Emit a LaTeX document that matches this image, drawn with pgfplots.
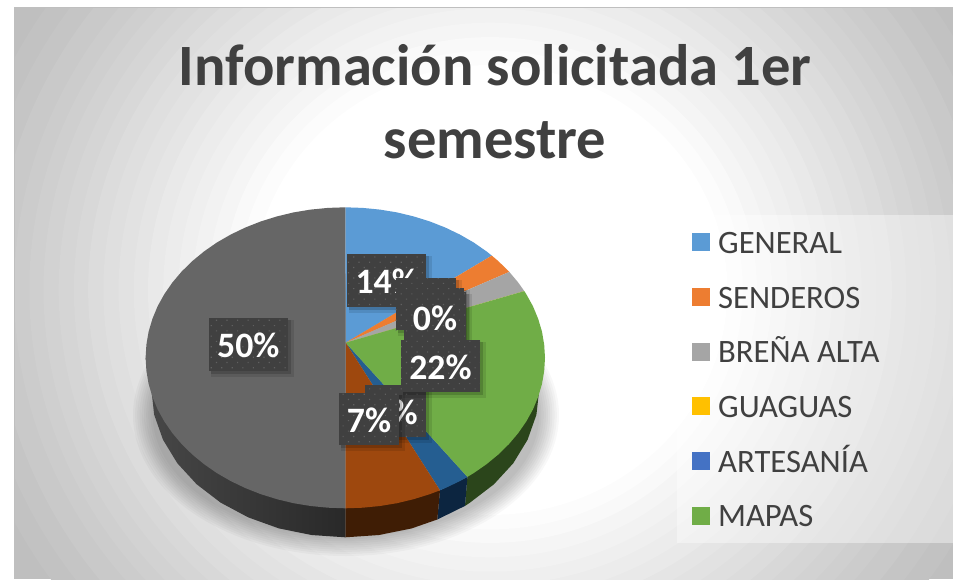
\documentclass[border=0pt]{standalone}
\usepackage{pgfplots}
\pgfplotsset{compat=1.18}
\usepackage{fontspec}
\setmainfont{Carlito}
\usetikzlibrary{patterns.meta}
\definecolor{cBlue}{HTML}{5B9BD5}
\definecolor{cOrange}{HTML}{ED7D31}
\definecolor{cGray}{HTML}{A5A5A5}
\definecolor{cYellow}{HTML}{FFC000}
\definecolor{cArt}{HTML}{255E91}
\definecolor{cArtL}{HTML}{4472C4}
\definecolor{cGreen}{HTML}{70AD47}
\definecolor{cBrown}{HTML}{9E480E}
\definecolor{cDark}{HTML}{666666}
\definecolor{sGreen}{HTML}{2B451B}
\definecolor{sArt}{HTML}{0C2540}
\definecolor{sBrown}{HTML}{3F1D05}
\definecolor{txt}{HTML}{404040}
\definecolor{lab}{HTML}{404040}
\definecolor{labd}{HTML}{606060}
\definecolor{bgB}{HTML}{BFBFBF}
\newcommand{\bgl}[2]{\fill[white!#1!bgB] (axis cs:490,290) ellipse [x radius={#2*9.5}, y radius={#2*9}];}
\newcommand{\lblbox}[4]{%
  \fill[black,opacity=.10] (axis cs:#1+2,#3+2) rectangle (axis cs:#2+6,#4+6);
  \fill[black,opacity=.16] (axis cs:#1+2,#3+2) rectangle (axis cs:#2+3,#4+3);
  \fill[lab] (axis cs:#1,#3) rectangle (axis cs:#2,#4);
  \fill[pattern={Dots[radius=.6pt,distance=5.6pt,angle=45]},pattern color=labd] (axis cs:#1,#3) rectangle (axis cs:#2,#4);
}
\newcommand{\lbl}[5]{%
  \lblbox{#1}{#2}{#3}{#4}
  \node[text=white,font=\fontsize{26.8}{30}\selectfont\bfseries] at (axis cs:{(#1+#2)/2},{(#3+#4)/2+1}) {#5};
}
\newcommand{\shad}[2]{\fill[black,opacity=.028] (axis cs:346,415) ellipse [x radius=#1, y radius=#2];}
\begin{document}
\begin{tikzpicture}
\begin{axis}[
  scale only axis, width=714.75pt, height=434.25pt,
  xmin=0, xmax=953, ymin=0, ymax=579, y dir=reverse,
  hide axis, clip=true,
  title={Información solicitada 1er\\semestre},
  title style={at={(0.5195,0.8104)},anchor=center,align=center,text=txt,
    font=\fontsize{43.9}{54.5}\selectfont\bfseries},
  legend style={at={(0.726,0.3446)},anchor=west,draw=none,fill=none,
    inner xsep=0pt,inner ysep=0pt,font=\fontsize{24.5}{28}\selectfont,text=txt,
    row sep=18pt,column sep=6pt,
    nodes={inner sep=0pt,text height=19.4pt,text depth=3.6pt}},
  legend cell align=left,
  legend image code/.code={\fill[#1] (0pt,-6.45pt) rectangle (13.5pt,7.05pt);},
]
\fill[white] (axis cs:0,0) rectangle (axis cs:953,579);
\fill[color=black!25] (axis cs:13.5,6.5) rectangle (axis cs:953,579);
\begin{scope}
\clip (axis cs:15,8) rectangle (axis cs:953,579);
\fill[bgB] (axis cs:15,8) rectangle (axis cs:953,579);
\bgl{5}{56.3}\bgl{10}{54.2}\bgl{15}{52.2}\bgl{20}{50.1}\bgl{25}{48.5}
\bgl{30}{47}\bgl{35}{45.4}\bgl{40}{43.8}\bgl{45}{42.3}\bgl{50}{40.7}
\bgl{55}{39.1}\bgl{60}{37.5}\bgl{65}{36}\bgl{70}{34.4}\bgl{75}{32.8}
\bgl{80}{31.3}\bgl{85}{29.7}\bgl{90}{28.1}\bgl{95}{26.6}\bgl{100}{25}
\end{scope}
\fill[white,opacity=.4] (axis cs:677,215) rectangle (axis cs:953,543);
\shad{213}{141}\shad{210.8}{138.9}\shad{208.6}{136.8}\shad{206.4}{134.7}\shad{204.2}{132.6}
\shad{202}{130.5}\shad{199.8}{128.4}\shad{197.6}{126.3}\shad{195.4}{124.2}\shad{193.2}{122.1}
% sides
\addplot[forget plot,draw=none,fill=sGreen] coordinates {(539.3,389)(536.4,414.8)(527.6,439.7)(513.3,463.2)(493.9,484.3)(470,502.6)(465,505.9)(467.4,476.9)(500,400)} --cycle;
\addplot[forget plot,draw=none,fill=sArt] coordinates {(467.4,476.9)(465,505.9)(437.3,519.5)(440,490.3)} --cycle;
\addplot[forget plot,draw=none,fill=sBrown] coordinates {(440,490.3)(437.3,519.5)(411.7,528.4)(379,535)(345.3,537.3)(345.3,508.3)} --cycle;
\addplot[forget plot,draw=none,left color=black!72,right color=black!84] coordinates {(345.3,508.3)(345.3,537.3)(311.6,535)(278.9,528.4)(248.3,517.4)(220.6,502.6)(196.7,484.3)(177.3,463.2)(163,439.7)(154.2,414.8)(151.3,389)(145.6,357.8)(300,400)} --cycle;
% top
\addplot[draw=none,fill=cBlue] coordinates {(345.7,342.7)(345.3,207.3)(362.7,207.9)(380.0,209.6)(397.0,212.4)(413.6,216.4)(429.7,221.4)(445.2,227.5)(459.8,234.5)(473.7,242.5)(486.5,251.4)(491.8,255.6)} --cycle;
\addlegendentry{GENERAL}
\addplot[draw=none,fill=cOrange] coordinates {(345.7,342.7)(491.8,255.6)(498.3,261.1)(509.3,271.9)} --cycle;
\addlegendentry{SENDEROS}
\addplot[draw=none,fill=cGray] coordinates {(345.7,342.7)(509.3,271.9)(518.2,282.5)(524.3,291.1)} --cycle;
\addlegendentry{BREÑA ALTA}
\addplot[draw=none,fill=cYellow] coordinates {(345.7,342.7)(524.3,291.1)(524.3,291.1)} --cycle;
\addlegendentry{GUAGUAS}
\addplot[forget plot,draw=none,fill=cArt] coordinates {(345.7,342.7)(467.4,476.9)(459.8,481.1)(445.2,488.1)(440.0,490.3)} --cycle;
\addlegendimage{draw=none,fill=cArtL}
\addlegendentry{ARTESANÍA}
\addplot[draw=none,fill=cGreen] coordinates {(345.7,342.7)(524.3,291.1)(526.3,294.2)(533.0,306.3)(538.2,318.9)(542.0,331.7)(544.2,344.7)(545.0,357.8)(544.2,370.9)(542.0,383.9)(538.2,396.7)(533.0,409.3)(526.3,421.4)(518.2,433.1)(508.9,444.1)(498.3,454.5)(486.5,464.2)(473.7,473.1)(467.4,476.9)} --cycle;
\addlegendentry{MAPAS}
\addplot[forget plot,draw=none,fill=cBrown] coordinates {(345.7,342.7)(440,490.3)(429.7,494.2)(413.6,499.2)(397.0,503.2)(380,506)(362.7,507.7)(345.3,508.3)} --cycle;
\addplot[forget plot,draw=none,fill=cDark] coordinates {(345.7,342.7)(345.3,508.3)(327.9,507.7)(310.6,506)(293.6,503.2)(277,499.2)(260.9,494.2)(245.4,488.1)(230.8,481.1)(216.9,473.1)(204.1,464.2)(192.3,454.5)(181.7,444.1)(172.4,433.1)(164.3,421.4)(157.6,409.3)(152.4,396.7)(148.6,383.9)(146.4,370.9)(145.6,357.8)(146.4,344.7)(148.6,331.7)(152.4,318.9)(157.6,306.3)(164.3,294.2)(172.4,282.5)(181.7,271.5)(192.3,261.1)(204.1,251.4)(216.9,242.5)(230.8,234.5)(245.4,227.5)(260.9,221.4)(277,216.4)(293.6,212.4)(310.6,209.6)(327.9,207.9)(345.3,207.3)} --cycle;
% data labels
\lbl{347.3}{426}{254}{306.7}{14\%}
\lblbox{395.7}{456}{278.3}{330}
\lblbox{404}{464}{287.7}{338}
\lbl{404}{466}{292}{342}{0\%}
\lbl{365.3}{426}{385}{437.3}{3\%}
\lbl{401}{480}{340}{391.7}{22\%}
\lbl{339}{399}{393}{445}{7\%}
\lbl{209}{287.7}{318}{371}{50\%}
\end{axis}
\end{tikzpicture}
\end{document}
